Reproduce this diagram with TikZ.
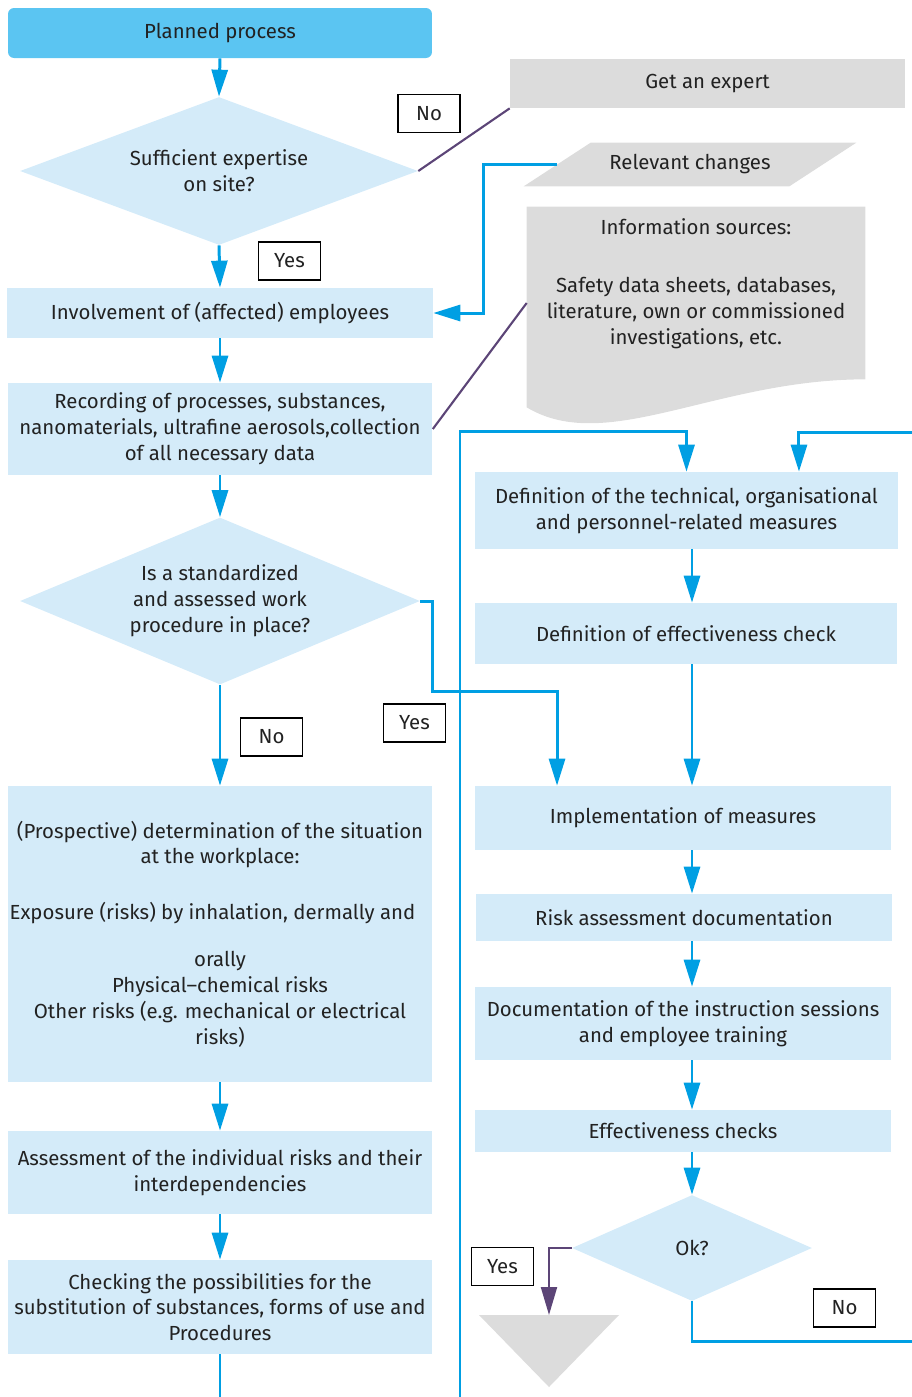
\documentclass[tikz,border=0pt]{standalone}
\usepackage{fontspec}
\setmainfont{Fira Sans}
\usepackage{tikz}
\usetikzlibrary{positioning,arrows.meta,shapes.geometric}
\usepackage{xcolor}

\definecolor{topblue}{HTML}{5BC5F2}
\definecolor{paleblue}{HTML}{D4EBF9}
\definecolor{lineblue}{HTML}{009FE3}
\definecolor{docgray}{HTML}{DCDCDC}
\definecolor{plum}{HTML}{5C4577}
\definecolor{ink}{HTML}{222222}

\begin{document}
\begin{tikzpicture}[x=0.02cm, y=-0.02cm,
  every node/.style={font=\fontsize{11.6}{14.7}\selectfont, text=ink, align=center, inner sep=0pt},
  box/.style={rectangle, fill=paleblue, minimum width=8.5cm},
  decision/.style={diamond, fill=paleblue},
  extbox/.style={rectangle, fill=docgray},
  tag/.style={draw=black, fill=white, line width=0.7pt, minimum width=1.24cm, minimum height=0.76cm},
  flow/.style={draw=lineblue, line width=1.7pt, -{Triangle[length=0.54cm, width=0.32cm]}},
  link/.style={draw=lineblue, line width=1.7pt},
  aside/.style={draw=plum, line width=1.2pt},
  yesflow/.style={aside, -{Triangle[length=0.56cm, width=0.32cm]}}]
\useasboundingbox (0,0) rectangle (912,1397);

% left column
\node[rectangle, fill=topblue, rounded corners=0.12cm, minimum width=8.48cm, minimum height=1cm] (start) at (220,33) {Planned process};
\node[decision, aspect=2.7, minimum width=7.96cm, minimum height=2.96cm] (q1) at (219,171) {Sufficient expertise\\on site?};
\node[box, minimum width=8.52cm, minimum height=1cm] (invol) at (220,313) {Involvement of (affected) employees};
\node[box, minimum height=1.84cm] (rec) at (220,429) {Recording of processes, substances,\\nanomaterials, ultrafine aerosols,collection\\of all necessary data};
\node[decision, aspect=2.4, minimum width=8cm, minimum height=3.34cm] (q2) at (220,601) {Is a standardized\\and assessed work\\procedure in place?};
\node[box, minimum height=5.92cm] (prosp) at (220,934) {(Prospective) determination of the situation\\at the workplace:\\[0.6cm]Exposure (risks) by inhalation, dermally and\hspace*{0.3cm}\null\\[0.42cm]orally\\Physical–chemical risks\\Other risks (e.g. mechanical or electrical\\risks)};
\node[box, minimum height=1.66cm] (assess) at (220,1172.5) {Assessment of the individual risks and their\\interdependencies};
\node[box, minimum height=1.88cm] (check) at (220,1307) {Checking the possibilities for the\\substitution of substances, forms of use and\\Procedures};

% inputs on the right
\node[extbox, minimum width=7.9cm, minimum height=0.98cm] (expert) at (707.5,83.5) {Get an expert};
\node[minimum width=5.3cm, minimum height=0.86cm] (changes) at (690,164.5) {};
\fill[docgray] ([xshift=-0.67cm]changes.south west) -- ([xshift=0.67cm]changes.north west) -- ([xshift=0.67cm]changes.north east) -- ([xshift=-0.67cm]changes.south east) -- cycle;
\node at (changes) {Relevant changes};
\node[minimum width=6.76cm, minimum height=3.84cm] (info) at (696,303) {};
\fill[docgray] (info.north west) -- (info.north east) -- ([yshift=0.4cm]info.south east) .. controls +(-150,0) and +(80,48) .. ([yshift=-0.16cm]info.south west) -- cycle;
\node[anchor=north] (infotext) at ([yshift=-0.24cm]info.north) {Information sources:\\[0.64cm]Safety data sheets, databases,\\literature, own or commissioned\\investigations, etc.};

% right column
\node[box, minimum width=8.46cm, minimum height=1.54cm] (def) at (686.5,510.5) {Definition of the technical, organisational\\and personnel-related measures};
\node[box, minimum width=8.44cm, minimum height=1.22cm] (defcheck) at (686,633.5) {Definition of effectiveness check};
\node[box, minimum width=8.32cm, minimum height=1.28cm] (impl) at (683,818) {Implementation of measures};
\node[box, minimum width=8.32cm, minimum height=0.94cm] (riskdoc) at (684,917.5) {Risk assessment documentation};
\node[box, minimum width=8.32cm, minimum height=1.46cm] (docu) at (683,1023.5) {Documentation of the instruction sessions\\and employee training};
\node[box, minimum width=8.32cm, minimum height=0.84cm] (effchk) at (683,1131) {Effectiveness checks};
\node[decision, aspect=2.26, minimum width=4.8cm, minimum height=2.12cm] (ok) at (692,1248) {Ok?};
\coordinate (stop) at (549,1315);
\fill[docgray] (stop) ++(-70,0) -- ++(140,0) -- ++(-70,72) -- cycle;

% loose ends at the page border
\coordinate (loopin) at (460,1397);
\coordinate (loopback) at (912,432);
\coordinate (loopout) at (912,1341);

% connectors
\draw[flow] (start.south) -- (q1.north);
\draw[aside] (q1.east) -- (expert.south west);
\draw[flow] (changes.west) -- ++(-74,0) |- (invol.east);
\draw[flow] (q1.south) -- (invol.north);
\draw[flow] (invol.south) -- (rec.north);
\draw[aside] (rec.east) -- (info.west);
\draw[flow] (rec.south) -- (q2.north);
\draw[flow] (q2.east) -- ++(12,0) -- ++(0,90) -| ([xshift=-2.52cm]impl.north);
\draw[flow] (q2.south) -- (prosp.north);
\draw[flow] (prosp.south) -- (assess.north);
\draw[flow] (assess.south) -- (check.north);
\draw[link] (check.south) -- ++(0,43);
\draw[flow] (loopin) |- ([yshift=0.8cm]def.north) -- (def.north);
\draw[flow] (loopback) -| ([xshift=2.25cm]def.north);
\draw[flow] (def.south -| ok) -- (defcheck.north -| ok);
\draw[flow] (defcheck.south -| ok) -- (impl.north -| ok);
\draw[flow] (impl.south -| ok) -- (riskdoc.north -| ok);
\draw[flow] (riskdoc.south -| ok) -- (docu.north -| ok);
\draw[flow] (docu.south -| ok) -- (effchk.north -| ok);
\draw[flow] (effchk.south -| ok) -- (ok.north);
\draw[yesflow] (ok.west) -| (stop);
\draw[link] (ok.south) |- (loopout);

% yes/no tags
\node[tag] (no1) at (429,113.5) {No};
\node[tag] (yes1) at (289.5,261) {Yes};
\node[tag] (yes2) at (414.5,723) {Yes};
\node[tag] (no2) at (271.5,737) {No};
\node[tag] (yes3) at (502.5,1266.5) {Yes};
\node[tag] (no3) at (844.5,1308) {No};
\end{tikzpicture}
\end{document}
